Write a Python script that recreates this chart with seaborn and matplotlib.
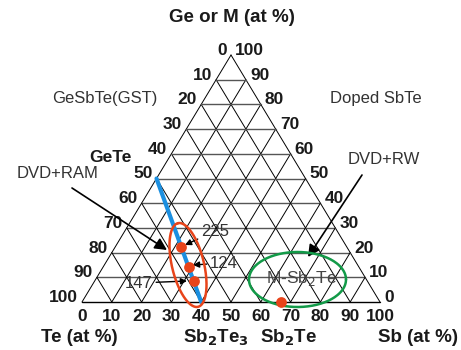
import numpy as np
import pandas as pd
import matplotlib
matplotlib.use('Agg')
import matplotlib.pyplot as plt
import seaborn as sns

# compositions in at %  (Ge or M, Sb); Te is the rest
tie_line_ge = [50.0, 0.0]          # GeTe -> Sb2Te3
tie_line_sb = [0.0, 40.0]
point_names = ['225', '124', '147', 'Sb2Te']
point_ge = [22.2, 14.3, 8.3, 0.0]
point_sb = [22.2, 28.6, 33.3, 66.7]
tick_values = [0, 10, 20, 30, 40, 50, 60, 70, 80, 90, 100]

sns.set_theme(style='white')
plt.rcParams['font.family'] = ['Liberation Sans', 'DejaVu Sans']

# pixel geometry of the triangle (base 82..380 px, base y 302, apex y 55)
X0, SX, Y0, SY = 82.0, 2.98, 302.0, 2.47


def tern(ge, sb):
    ge = np.asarray(ge, float)
    sb = np.asarray(sb, float)
    return sb + ge / 2.0, ge


def P(px, py):
    return (px - X0) / SX, (Y0 - py) / SY


fig = plt.figure(figsize=(4.61, 3.5), dpi=100)
ax = fig.add_axes([0, 0, 1, 1])
ax.set_xlim(-X0 / SX, (461 - X0) / SX)
ax.set_ylim((Y0 - 350) / SY, Y0 / SY)
ax.axis('off')

# grid
for v in tick_values[:-1]:
    # horizontal (constant Ge)
    x, y = tern([v, v], [0, 100 - v])
    ax.plot(x, y, color='#555555' if v > 0 else 'black', lw=1.0, zorder=1)
    # constant Sb (parallel to left edge)
    x, y = tern([0, 100 - v], [v, v])
    ax.plot(x, y, color='black', lw=0.7, zorder=1)
    # constant Te (parallel to right edge)
    x, y = tern([0, 100 - v], [100 - v, 0])
    ax.plot(x, y, color='black', lw=0.7, zorder=1)

# tick labels
tk = dict(fontsize=12.5, fontweight='bold', color='#1a1a1a')
for v in tick_values:
    x, y = tern(100 - v, 0)
    ax.text(x - 1.4, y, str(v), ha='right', va='baseline', **tk)
    x, y = tern(v, 100 - v)
    ax.text(x + 1.4, y, str(v), ha='left', va='baseline', **tk)
    x, y = tern(0, v)
    ax.text(x, y - 3.0, str(v), ha='center', va='top', **tk)

# GeTe - Sb2Te3 tie line
lx, ly = tern(tie_line_ge, tie_line_sb)
sns.lineplot(x=lx, y=ly, sort=False, color='#1b8fe0', lw=3, ax=ax, zorder=3)

# compositions
px_, py_ = tern(point_ge, point_sb)
pts = pd.DataFrame({'x': px_, 'y': py_, 'name': point_names})
sns.scatterplot(data=pts, x='x', y='y', color='#e8441a', s=60, linewidth=0,
                ax=ax, zorder=5, legend=False)

# ellipses (drawn in pixel space)
t = np.linspace(0, 2 * np.pi, 200)


def ellipse(cx, cy, a, b, ang, color):
    th = np.deg2rad(ang)
    ex = cx + a * np.cos(t) * np.cos(th) - b * np.sin(t) * np.sin(th)
    ey = cy + a * np.cos(t) * np.sin(th) + b * np.sin(t) * np.cos(th)
    ax.plot((ex - X0) / SX, ey / SY, color=color, lw=1.8, zorder=4)


ellipse(188, Y0 - 265, 43, 16, 103.5, '#e8441a')
ellipse(297.5, Y0 - 279.5, 48.5, 27.5, 0, '#129a48')

# labels
txt = dict(fontsize=12, color='#333333')
bold = dict(fontsize=13.5, fontweight='bold', color='#1a1a1a')
ax.text(*P(232, 18), 'Ge or M (at %)', ha='center', va='center', **bold)
ax.text(*P(105, 99), 'GeSbTe(GST)', ha='center', va='center', **txt)
ax.text(*P(376, 99), 'Doped SbTe', ha='center', va='center', **txt)
ax.text(*P(110, 157), 'GeTe', ha='center', va='center', **tk)
ax.text(*P(79, 338), 'Te (at %)', ha='center', va='center', **bold)
ax.text(*P(216, 338), r'Sb$_\mathbf{2}$Te$_\mathbf{3}$', ha='center', va='center', **bold)
ax.text(*P(289, 338), r'Sb$_\mathbf{2}$Te', ha='center', va='center', **bold)
ax.text(*P(418, 338), 'Sb (at %)', ha='center', va='center', **bold)
ax.text(*P(302, 279), r'M-Sb$_2$Te', ha='center', va='center', fontsize=12.5,
        color='#444444')

small = dict(arrowstyle='-|>', color='black', lw=1.0, mutation_scale=9,
             shrinkA=0, shrinkB=0)
big = dict(arrowstyle='-|>', color='black', lw=1.2, mutation_scale=18,
           shrinkA=0, shrinkB=0)
ax.annotate('225', xy=P(185, 245), xytext=P(215, 231), ha='center', va='center',
            arrowprops=small, **txt)
ax.annotate('124', xy=P(193, 265), xytext=P(224, 263), ha='center', va='center',
            arrowprops=small, **txt)
ax.annotate('147', xy=P(187, 281), xytext=P(139, 283), ha='center', va='center',
            arrowprops=small, **txt)
ax.annotate('', xy=P(167, 250), xytext=P(72, 188), arrowprops=big)
ax.annotate('', xy=P(308, 257), xytext=P(362, 175), arrowprops=big)
ax.text(*P(58, 174), 'DVD+RAM', ha='center', va='center', **txt)
ax.text(*P(384, 160), 'DVD+RW', ha='center', va='center', **txt)

fig.savefig('out.png', dpi=100)
